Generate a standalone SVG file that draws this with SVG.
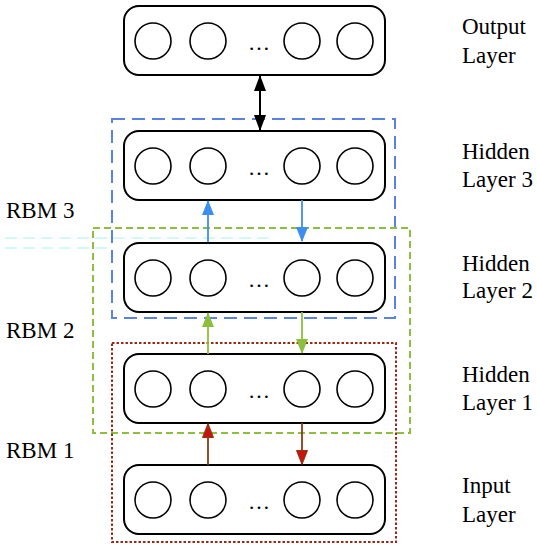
<svg xmlns="http://www.w3.org/2000/svg" width="537" height="550" viewBox="0 0 537 550">
<defs>
<marker id="ab" viewBox="0 0 16 12" refX="15" refY="6" markerWidth="16" markerHeight="12" markerUnits="userSpaceOnUse" orient="auto-start-reverse"><path d="M0,0 L16,6 L0,12 Z" fill="#000"/></marker>
<marker id="abl" viewBox="0 0 15 12" refX="14" refY="6" markerWidth="15" markerHeight="12" markerUnits="userSpaceOnUse" orient="auto"><path d="M0,0 L15,6 L0,12 Z" fill="#3c8ef0"/></marker>
<marker id="agr" viewBox="0 0 15 12" refX="14" refY="6" markerWidth="15" markerHeight="12" markerUnits="userSpaceOnUse" orient="auto"><path d="M0,0 L15,6 L0,12 Z" fill="#8cc03c"/></marker>
<marker id="ard" viewBox="0 0 15 12" refX="14" refY="6" markerWidth="15" markerHeight="12" markerUnits="userSpaceOnUse" orient="auto"><path d="M0.5,0.5 L14.5,6 L0.5,11.5 Z" fill="#c8140a" stroke="#8b3a14" stroke-width="1"/></marker>
</defs>
<rect width="537" height="550" fill="#fff"/>

<g id="labels">
<text x="462" y="34" font-family="Liberation Serif" font-size="23">Output</text>
<text x="462" y="63" font-family="Liberation Serif" font-size="23">Layer</text>
<text x="462" y="159" font-family="Liberation Serif" font-size="23">Hidden</text>
<text x="462" y="187" font-family="Liberation Serif" font-size="23">Layer 3</text>
<text x="462" y="271" font-family="Liberation Serif" font-size="23">Hidden</text>
<text x="462" y="298" font-family="Liberation Serif" font-size="23">Layer 2</text>
<text x="462" y="382" font-family="Liberation Serif" font-size="23">Hidden</text>
<text x="462" y="410" font-family="Liberation Serif" font-size="23">Layer 1</text>
<text x="462" y="493" font-family="Liberation Serif" font-size="23">Input</text>
<text x="462" y="522" font-family="Liberation Serif" font-size="23">Layer</text>
<text x="6" y="218" font-family="Liberation Serif" font-size="23">RBM 3</text>
<text x="6" y="338" font-family="Liberation Serif" font-size="23">RBM 2</text>
<text x="6" y="458" font-family="Liberation Serif" font-size="23">RBM 1</text>
</g>

<g id="artifacts" stroke="#8ff0f0" stroke-width="1.2" stroke-dasharray="12,6" opacity="0.8">
<line x1="5" y1="238" x2="270" y2="238"/>
<line x1="5" y1="248" x2="112" y2="248"/>
</g>

<g id="groups" fill="none">
<rect id="rbm3" x="112" y="119" width="283" height="199" stroke="#5a82e0" stroke-width="2" stroke-dasharray="13,7"/>
<rect id="rbm2" x="93" y="228" width="317" height="205" stroke="#8cbf3f" stroke-width="2" stroke-dasharray="7,4"/>
<rect id="rbm1" x="112" y="343" width="284" height="199" stroke="#9a2a14" stroke-width="2" stroke-dasharray="2.5,2"/>
</g>

<g id="output" fill="#fff" stroke="#000" stroke-width="1.6">
<rect x="124" y="6" width="261" height="69" rx="15" stroke-width="2"/>
<circle cx="153" cy="41" r="18"/><circle cx="208" cy="41" r="18"/>
<circle cx="302" cy="41" r="18"/><circle cx="355" cy="41" r="18"/>
<text x="259" y="50" text-anchor="middle" font-family="Liberation Serif" font-size="22" fill="#000" stroke="none">…</text>
</g>
<g id="hidden3" fill="#fff" stroke="#000" stroke-width="1.6">
<rect x="124" y="131" width="261" height="69" rx="15" stroke-width="2"/>
<circle cx="153" cy="166" r="18"/><circle cx="208" cy="166" r="18"/>
<circle cx="302" cy="166" r="18"/><circle cx="355" cy="166" r="18"/>
<text x="259" y="175" text-anchor="middle" font-family="Liberation Serif" font-size="22" fill="#000" stroke="none">…</text>
</g>
<g id="hidden2" fill="#fff" stroke="#000" stroke-width="1.6">
<rect x="124" y="243" width="261" height="69" rx="15" stroke-width="2"/>
<circle cx="153" cy="278" r="18"/><circle cx="208" cy="278" r="18"/>
<circle cx="302" cy="278" r="18"/><circle cx="355" cy="278" r="18"/>
<text x="259" y="287" text-anchor="middle" font-family="Liberation Serif" font-size="22" fill="#000" stroke="none">…</text>
</g>
<g id="hidden1" fill="#fff" stroke="#000" stroke-width="1.6">
<rect x="124" y="354" width="261" height="69" rx="15" stroke-width="2"/>
<circle cx="153" cy="389" r="18"/><circle cx="208" cy="389" r="18"/>
<circle cx="302" cy="389" r="18"/><circle cx="355" cy="389" r="18"/>
<text x="259" y="398" text-anchor="middle" font-family="Liberation Serif" font-size="22" fill="#000" stroke="none">…</text>
</g>
<g id="input" fill="#fff" stroke="#000" stroke-width="1.6">
<rect x="124" y="465" width="261" height="69" rx="15" stroke-width="2"/>
<circle cx="153" cy="500" r="18"/><circle cx="208" cy="500" r="18"/>
<circle cx="302" cy="500" r="18"/><circle cx="355" cy="500" r="18"/>
<text x="259" y="509" text-anchor="middle" font-family="Liberation Serif" font-size="22" fill="#000" stroke="none">…</text>
</g>

<g id="connectors">
<line x1="260" y1="76" x2="260" y2="130" stroke="#000" stroke-width="2" marker-start="url(#ab)" marker-end="url(#ab)"/>
<line x1="208" y1="242" x2="208" y2="201" stroke="#3c8ef0" stroke-width="1.8" marker-end="url(#abl)"/>
<line x1="302" y1="200" x2="302" y2="241" stroke="#3c8ef0" stroke-width="1.8" marker-end="url(#abl)"/>
<line x1="208" y1="354" x2="208" y2="313" stroke="#8cc03c" stroke-width="1.8" marker-end="url(#agr)"/>
<line x1="302" y1="312" x2="302" y2="353" stroke="#8cc03c" stroke-width="1.8" marker-end="url(#agr)"/>
<line x1="208" y1="465" x2="208" y2="424" stroke="#8b3a14" stroke-width="1.8" marker-end="url(#ard)"/>
<line x1="302" y1="423" x2="302" y2="464" stroke="#8b3a14" stroke-width="1.8" marker-end="url(#ard)"/>
</g>
</svg>
